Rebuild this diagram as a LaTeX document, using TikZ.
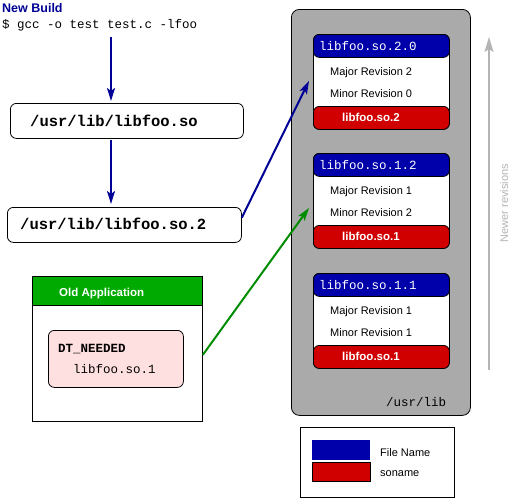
\documentclass[tikz,border=0pt]{standalone}
\usepackage{fontspec}
\setmainfont{Liberation Sans}
\setmonofont{Liberation Mono}
\usetikzlibrary{arrows.meta,calc}
\definecolor{hdrblue}{RGB}{0,0,170}
\definecolor{ftrred}{RGB}{208,0,0}
\definecolor{appgreen}{RGB}{0,170,0}
\definecolor{navyarr}{RGB}{0,0,150}
\definecolor{arrgreen}{RGB}{0,140,0}
\definecolor{libgray}{RGB}{170,170,170}
\definecolor{revgray}{RGB}{180,180,180}
\definecolor{pinkfill}{RGB}{255,224,224}
\definecolor{titleblue}{RGB}{0,0,150}
\begin{document}
\begin{tikzpicture}[x=1pt,y=-1pt,
  txt/.style={anchor=base west,inner sep=0pt},
  boxnw/.style={anchor=north west,inner sep=0pt,line width=0.8pt},
  pathbox/.style={boxnw,draw,rounded corners=6pt,fill=white},
  revbox/.style={boxnw,draw,rounded corners=6pt,fill=white,minimum width=136pt,minimum height=95pt},
  revhdr/.style={boxnw,draw,rounded corners=6pt,fill=hdrblue,minimum width=136pt,minimum height=23pt},
  revftr/.style={boxnw,draw,rounded corners=6pt,fill=ftrred,minimum width=136pt,minimum height=23pt},
  monob/.style={txt,font=\fontsize{12.5}{14}\selectfont\ttfamily\bfseries},
  monor/.style={txt,font=\fontsize{12.5}{14}\selectfont\ttfamily},
  pathtxt/.style={txt,font=\fontsize{15.5}{18}\selectfont\ttfamily\bfseries},
  sans/.style={txt,font=\fontsize{11}{13}\selectfont},
  sansb/.style={txt,font=\fontsize{11.5}{13}\selectfont\bfseries,text=white},
  bigarrow/.style={line width=2pt,-{Stealth[length=13pt,width=8pt,inset=3pt]}},
]
\useasboundingbox (0,0) rectangle (509,498);
\fill[white] (0,0) rectangle (509,498);

% top-left texts
\node[txt,font=\fontsize{12.5}{14}\selectfont\bfseries,text=titleblue] (title) at (2,12) {New Build};
\node[monor] (gcc) at (2,28) {\$ gcc -o test test.c -lfoo};

% path boxes
\node[pathbox,minimum width=233pt,minimum height=35pt] (p1) at (10,103) {};
\node[pathtxt] (p1t) at (30,126.5) {/usr/lib/libfoo.so};
\node[pathbox,minimum width=234pt,minimum height=35pt] (p2) at (7,207) {};
\node[pathtxt] (p2t) at (20,229) {/usr/lib/libfoo.so.2};

\coordinate (a1) at (111,37);
\coordinate (a2) at (111,140);
\draw[bigarrow,navyarr] (a1) -- ($(a1 |- p1.north)+(0,-2)$);
\draw[bigarrow,navyarr] (a2) -- ($(a2 |- p2.north)+(0,-3)$);

% old application
\node[boxnw,draw,fill=white,minimum width=170pt,minimum height=145pt] (app) at (32,276) {};
\node[boxnw,draw,fill=appgreen,minimum width=170pt,minimum height=29pt] (apphdr) at (32,276) {};
\node[sansb] (appt) at (59,296) {Old Application};
\node[boxnw,draw,fill=pinkfill,rounded corners=6pt,minimum width=135pt,minimum height=57pt] (dt) at (48,330) {};
\node[monob] (dtt) at (58,352) {DT\_NEEDED};
\node[monor] (dtl) at (73,373) {libfoo.so.1};

% /usr/lib container
\node[boxnw,draw,fill=libgray,rounded corners=8pt,minimum width=179pt,minimum height=406pt] (lib) at (291,9) {};
\node[monor] (libt) at (386,406) {/usr/lib};

% revision boxes
\foreach \n/\top/\file/\maj/\mnr/\so in {r1/34/2.0/2/0/2, r2/153/1.2/1/2/1, r3/273/1.1/1/1/1}{
  \node[revbox] (\n) at (313,\top) {};
  \node[revhdr] (\n h) at (313,\top) {};
  \node[revftr] (\n f) at (313,\top+72) {};
  \node[monor,text=white] (\n ht) at (319,\top+16) {libfoo.so.\file};
  \node[sans] (\n ma) at (330,\top+41) {Major Revision \maj};
  \node[sans] (\n mi) at (330,\top+63) {Minor Revision \mnr};
  \node[sansb] (\n ft) at (342,\top+87) {libfoo.so.\so};
}

% connectors
\draw[bigarrow,navyarr] ($(p2.north east)!0.3!(p2.south east)$) -- ($(r1.west)+(-4,-1)$);
\draw[bigarrow,arrgreen] ($(app.east)+(0,6)$) -- ($(r2.west)+(-4,7)$);

% newer revisions
\coordinate (nrb) at (489,370);
\coordinate (nrt) at (489,37);
\draw[revgray,line width=1.5pt,-{Stealth[length=15pt,width=9pt,inset=3pt]}] (nrb) -- (nrt);
\node[txt,anchor=base,rotate=90,text=revgray,font=\fontsize{11}{13}\selectfont] (nrtxt) at (508,203) {Newer revisions};

% legend
\node[boxnw,draw,fill=white,minimum width=154pt,minimum height=70pt] (leg) at (300,427) {};
\node[boxnw,fill=hdrblue,minimum width=58pt,minimum height=20pt] (legb) at (312,440) {};
\node[boxnw,draw,fill=ftrred,minimum width=58pt,minimum height=19pt] (legr) at (312,462) {};
\node[sans] (legbt) at (380,456) {File Name};
\node[sans] (legrt) at (380,476) {soname};
\end{tikzpicture}
\end{document}
